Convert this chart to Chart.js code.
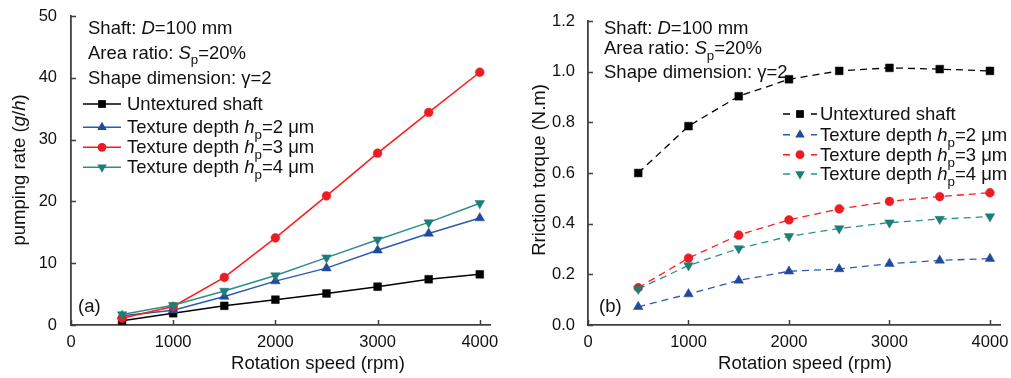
<!DOCTYPE html>
<html>
<head>
<meta charset="utf-8">
<script src="https://cdn.jsdelivr.net/npm/chart.js@4.4.1/dist/chart.umd.min.js"></script>
<style>
html,body{margin:0;padding:0;background:#fff;}
#wrap{position:relative;width:1011px;height:378px;overflow:hidden;}
canvas{position:absolute;top:0;}
</style>
</head>
<body>
<div id="wrap">
<canvas id="c1" width="505" height="378" style="left:0px"></canvas>
<canvas id="c2" width="506" height="378" style="left:505px"></canvas>
</div>
<script>
// ---------- data ----------
const speeds = [500, 1000, 1500, 2000, 2500, 3000, 3500, 4000];
const seriesNames = ['Untextured shaft', 'Texture depth *h*_p=2 \u03bcm', 'Texture depth *h*_p=3 \u03bcm', 'Texture depth *h*_p=4 \u03bcm'];
const infoLines = ['Shaft: *D*=100 mm', 'Area ratio: *S*_p=20%', 'Shape dimension: \u03b3=2'];

// (a) pumping rate (g/h)
const pumpUntextured = [0.7, 1.9, 3.1, 4.1, 5.1, 6.2, 7.4, 8.2];
const pumpDepth2     = [1.5, 2.4, 4.6, 7.1, 9.2, 12.1, 14.8, 17.3];
const pumpDepth3     = [1.1, 3.0, 7.7, 14.1, 20.9, 27.8, 34.4, 40.9];
const pumpDepth4     = [1.7, 3.2, 5.5, 8.0, 10.9, 13.8, 16.6, 19.7];

// (b) friction torque (N.m)
const torqueUntextured = [0.600, 0.785, 0.903, 0.970, 1.003, 1.015, 1.010, 1.003];
const torqueDepth2     = [0.072, 0.122, 0.176, 0.212, 0.221, 0.242, 0.255, 0.262];
const torqueDepth3     = [0.147, 0.264, 0.355, 0.415, 0.458, 0.488, 0.507, 0.522];
const torqueDepth4     = [0.142, 0.235, 0.302, 0.350, 0.381, 0.404, 0.418, 0.428];

const xTicks = [0, 1000, 2000, 3000, 4000];
const yTicksA = [0, 10, 20, 30, 40, 50];
const yTicksB = [0.0, 0.2, 0.4, 0.6, 0.8, 1.0, 1.2];

// ---------- styles ----------
const FONT = '"Liberation Sans", Arial, Helvetica, sans-serif';
const AXIS = '#404040';
const TXT = 18.5;
const styles = [
  {line: '#000000', point: '#000000', shape: 'rect', r: 5.5, rot: 0},
  {line: '#2b5cab', point: '#1f4a9e', shape: 'triangle', r: 5.5, rot: 0},
  {line: '#ff1a1a', point: '#ec1c24', shape: 'circle', r: 4.4, rot: 0},
  {line: '#2a9088', point: '#1c7f77', shape: 'triangle', r: 5.5, rot: 180}
];
const drawOrder = [3, 2, 1, 0];

function parseRich(s) {
  const segs = [];
  let i = 0, buf = '';
  const flush = () => { if (buf) { segs.push({t: buf}); buf = ''; } };
  while (i < s.length) {
    const c = s[i];
    if (c === '*') { flush(); const j = s.indexOf('*', i + 1); segs.push({t: s.slice(i + 1, j), it: true}); i = j + 1; }
    else if (c === '_') { flush(); segs.push({t: s[i + 1], sub: true}); i += 2; }
    else { buf += c; i++; }
  }
  flush();
  return segs;
}
function richWidth(ctx, str, size) {
  let w = 0;
  ctx.save();
  parseRich(str).forEach(s => {
    const sz = s.sub ? size * 0.72 : size;
    ctx.font = (s.it ? 'italic ' : '') + sz + 'px ' + FONT;
    w += ctx.measureText(s.t).width;
  });
  ctx.restore();
  return w;
}
function drawRich(ctx, x, y, str, size) {
  const segs = parseRich(str);
  ctx.save();
  ctx.textBaseline = 'alphabetic';
  ctx.textAlign = 'left';
  ctx.fillStyle = '#111';
  for (const s of segs) {
    const sz = s.sub ? size * 0.72 : size;
    ctx.font = (s.it ? 'italic ' : '') + sz + 'px ' + FONT;
    ctx.fillText(s.t, x, y + (s.sub ? size * 0.32 : 0));
    x += ctx.measureText(s.t).width;
  }
  ctx.restore();
}
function drawMarker(ctx, st, x, y) {
  ctx.save();
  ctx.fillStyle = st.point;
  ctx.beginPath();
  const r = st.r;
  if (st.shape === 'rect') {
    const h = r * Math.SQRT1_2;
    ctx.rect(x - h, y - h, 2 * h, 2 * h);
  } else if (st.shape === 'circle') {
    ctx.arc(x, y, r, 0, Math.PI * 2);
  } else {
    const s = st.rot ? -1 : 1;
    ctx.moveTo(x, y - s * r);
    ctx.lineTo(x + r * 0.866, y + s * r * 0.5);
    ctx.lineTo(x - r * 0.866, y + s * r * 0.5);
    ctx.closePath();
  }
  ctx.fill();
  ctx.restore();
}

function makeDatasets(valueSets, dashed) {
  return valueSets.map((vals, k) => ({
    label: seriesNames[k],
    data: speeds.map((s, i) => ({x: s, y: vals[i]})),
    borderColor: styles[k].line,
    backgroundColor: styles[k].point,
    pointBackgroundColor: styles[k].point,
    pointBorderColor: styles[k].point,
    pointBorderWidth: 0.5,
    pointStyle: styles[k].shape,
    pointRotation: styles[k].rot,
    pointRadius: styles[k].r,
    borderWidth: dashed ? 1.3 : 1.5,
    borderDash: dashed ? [7, 5] : [],
    tension: 0,
    order: drawOrder[k]
  }));
}

function makeChart(id, cfg) {
  const decor = {
    id: 'decor' + id,
    afterDatasetsDraw(chart) {
      const ctx = chart.ctx;
      const xs = chart.scales.x, ys = chart.scales.y;
      // inward tick marks
      ctx.save();
      ctx.strokeStyle = AXIS;
      ctx.lineWidth = 1.5;
      ctx.beginPath();
      xs.ticks.forEach(t => { const px = Math.round(xs.getPixelForValue(t.value)) + 0.5; ctx.moveTo(px, xs.top); ctx.lineTo(px, xs.top - 5); });
      ys.ticks.forEach(t => { const py = Math.round(ys.getPixelForValue(t.value)) + 0.5; ctx.moveTo(ys.right, py); ctx.lineTo(ys.right + 5, py); });
      ctx.stroke();
      ctx.restore();
      // axis titles
      ctx.save();
      ctx.fillStyle = '#111';
      ctx.font = TXT + 'px ' + FONT;
      ctx.textAlign = 'center';
      ctx.textBaseline = 'alphabetic';
      ctx.fillText(cfg.xTitle, cfg.xTitlePos[0], cfg.xTitlePos[1]);
      ctx.translate(cfg.yTitlePos[0], cfg.yTitlePos[1]);
      ctx.rotate(-Math.PI / 2);
      const w = richWidth(ctx, cfg.yTitle, TXT);
      drawRich(ctx, -w / 2, 6.5, cfg.yTitle, TXT);
      ctx.restore();
      // info lines
      infoLines.forEach((s, i) => drawRich(ctx, cfg.infoX, cfg.infoY[i], s, TXT));
      // legend
      seriesNames.forEach((s, i) => {
        const by = cfg.legY[i];
        const my = by - 6;
        ctx.save();
        ctx.strokeStyle = styles[i].line;
        ctx.lineWidth = 1.5;
        ctx.beginPath();
        if (cfg.dashed) {
          ctx.moveTo(cfg.legLine[0], my); ctx.lineTo(cfg.legLine[0] + 7, my);
          ctx.moveTo(cfg.legLine[1] - 6, my); ctx.lineTo(cfg.legLine[1], my);
        } else {
          ctx.moveTo(cfg.legLine[0], my); ctx.lineTo(cfg.legLine[1], my);
        }
        ctx.stroke();
        ctx.restore();
        drawMarker(ctx, styles[i], (cfg.legLine[0] + cfg.legLine[1]) / 2, my);
        drawRich(ctx, cfg.legTextX, by, s, TXT);
      });
      // panel label
      drawRich(ctx, cfg.panel[1], cfg.panel[2], cfg.panel[0], TXT);
    }
  };
  return new Chart(document.getElementById(id), {
    type: 'line',
    data: {datasets: makeDatasets(cfg.values, cfg.dashed)},
    options: {
      responsive: false,
      animation: false,
      events: [],
      layout: {autoPadding: false, padding: cfg.padding},
      plugins: {legend: {display: false}, tooltip: {enabled: false}, title: {display: false}},
      scales: {
        x: {
          type: 'linear', min: 0, max: 4100,
          afterBuildTicks: sc => { sc.ticks = xTicks.map(v => ({value: v})); },
          afterFit: sc => { sc.height = 53; },
          grid: {display: false},
          border: {display: true, color: AXIS, width: 1.8},
          ticks: {padding: 0, color: '#111', font: {family: FONT, size: 16.5}, maxRotation: 0,
                  callback: v => String(v)}
        },
        y: {
          type: 'linear', min: cfg.yTicks[0], max: cfg.yTicks[cfg.yTicks.length - 1],
          afterBuildTicks: sc => { sc.ticks = cfg.yTicks.map(v => ({value: v})); },
          afterFit: sc => { sc.width = cfg.yWidth; },
          grid: {display: false},
          border: {display: true, color: AXIS, width: 1.8},
          ticks: {padding: cfg.yPad, color: '#111', font: {family: FONT, size: 16.5},
                  callback: v => cfg.yDec ? Number(v).toFixed(1) : String(v)}
        }
      }
    },
    plugins: [decor]
  });
}

makeChart('c1', {
  values: [pumpUntextured, pumpDepth2, pumpDepth3, pumpDepth4],
  dashed: false,
  yTicks: yTicksA, yDec: false, yWidth: 71, yPad: 6,
  padding: {left: 0, top: 16, right: 15, bottom: 0},
  xTitle: 'Rotation speed (rpm)', xTitlePos: [318, 369],
  yTitle: 'pumping rate (*g*/*h*)', yTitlePos: [18, 170],
  infoX: 88, infoY: [33.5, 58.5, 83.5],
  legLine: [83, 121], legTextX: 127, legY: [110, 133.3, 153.3, 173.3],
  panel: ['(a)', 78, 312]
});
makeChart('c2', {
  values: [torqueUntextured, torqueDepth2, torqueDepth3, torqueDepth4],
  dashed: true,
  yTicks: yTicksB, yDec: true, yWidth: 83, yPad: 5,
  padding: {left: 0, top: 21, right: 11, bottom: 0},
  xTitle: 'Rotation speed (rpm)', xTitlePos: [805 - 505, 369],
  yTitle: 'Rriction torque (N.m)', yTitlePos: [538 - 505, 170],
  infoX: 604 - 505, infoY: [33.5, 54, 77.5],
  legLine: [783 - 505, 817 - 505], legTextX: 820 - 505, legY: [120, 140.7, 160.7, 180],
  panel: ['(b)', 599 - 505, 312]
});
</script>
</body>
</html>
